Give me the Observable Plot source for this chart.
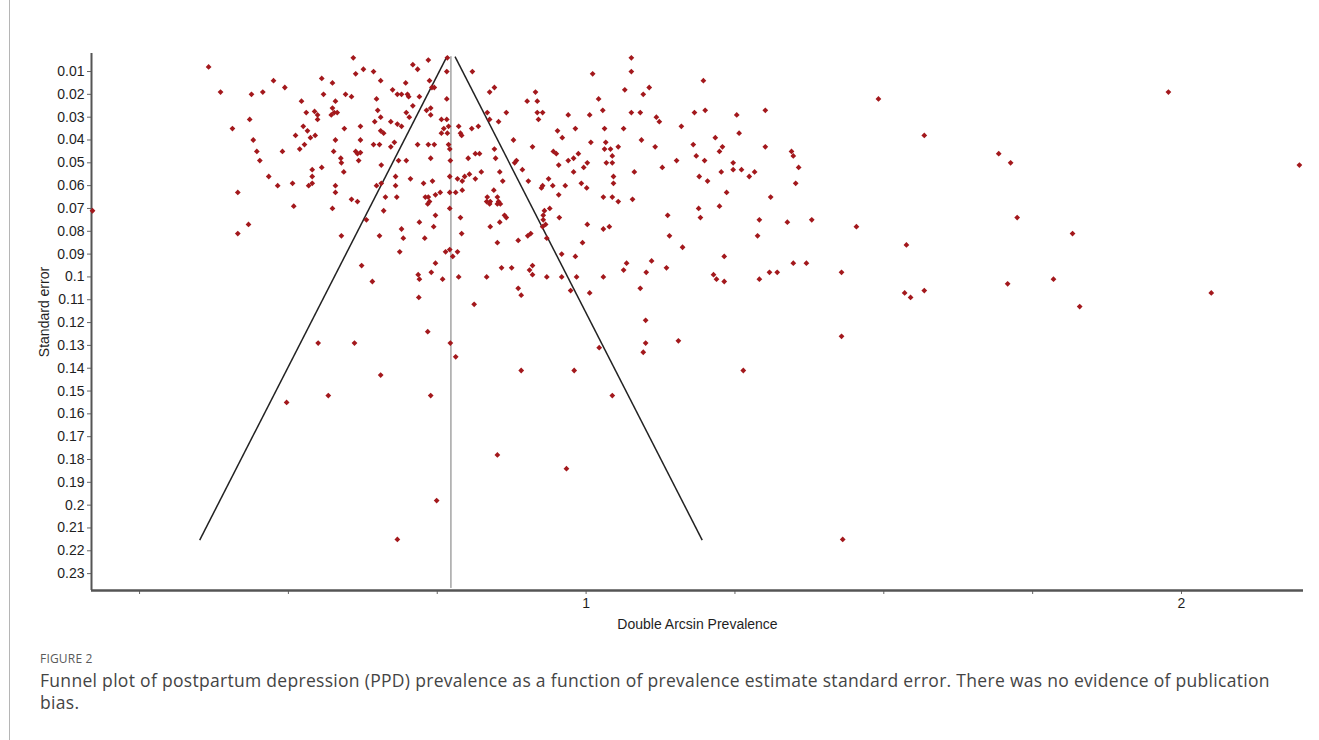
<!DOCTYPE html>
<html>
<head>
<meta charset="utf-8">
<script src="https://cdn.jsdelivr.net/npm/d3@7"></script>
<script src="https://cdn.jsdelivr.net/npm/@observablehq/plot@0.6"></script>
<style>
  html, body { margin: 0; padding: 0; background: #fff; overflow: hidden; }
  #fig { position: relative; width: 1319px; height: 740px; }
  #fig::before { content: ""; position: absolute; left: 9px; top: 0; width: 0; height: 740px; border-left: 1px solid #b5b5b5; }
  #chart { position: absolute; left: 0; top: 0; }
  .figlabel { position: absolute; left: 40px; top: 650px; font-family: "Open Sans", "Noto Sans", sans-serif; font-size: 12px; color: #5a5a5a; letter-spacing: 0.2px; }
  .caption { position: absolute; left: 40px; top: 669px; width: 1245px; font-family: "Open Sans", "Noto Sans", sans-serif; font-size: 17.5px; letter-spacing: 0.3px; line-height: 22px; color: #444; }
</style>
</head>
<body>
<div id="fig">
  <div id="chart"></div>
  <div class="figlabel">FIGURE 2</div>
  <div class="caption">Funnel plot of postpartum depression (PPD) prevalence as a function of prevalence estimate standard error. There was no evidence of publication bias.</div>
</div>
<script>
// ---- Data ----
const prevalence = [
  0.366,0.386,0.438,0.457,0.475,0.494,0.406,0.435,0.441,0.447,0.452,0.490,
  0.609,0.556,0.574,0.613,0.626,0.643,0.655,0.709,0.717,0.735,0.767,0.766,
  0.737,0.741,0.745,0.697,0.675,0.683,0.690,0.700,0.702,0.720,0.559,0.522,
  0.596,0.606,0.579,0.574,0.648,0.650,0.766,0.530,0.544,0.549,0.549,0.572,
  0.577,0.582,0.655,0.709,0.698,0.703,0.732,0.739,0.739,0.525,0.532,0.512,
  0.545,0.537,0.527,0.519,0.594,0.621,0.645,0.672,0.683,0.690,0.655,0.660,
  0.579,0.621,0.643,0.653,0.678,0.672,0.576,0.613,0.616,0.621,0.618,0.588,
  0.589,0.656,0.685,0.698,0.540,0.556,0.717,0.735,0.745,0.757,0.766,0.769,
  0.761,0.757,0.767,0.769,0.771,0.772,0.739,0.786,0.789,0.791,0.808,0.819,
  0.809,0.814,0.821,0.802,0.838,0.846,0.834,0.838,0.866,0.853,0.846,0.848,
  0.878,0.880,0.883,0.893,0.901,0.915,0.918,0.918,0.927,0.920,0.910,0.945,
  0.950,0.954,0.952,0.960,0.970,0.982,0.970,0.979,0.987,0.996,1.002,1.006,
  1.011,1.021,1.028,1.031,1.008,1.033,1.031,1.041,1.044,1.044,1.034,1.054,
  1.063,1.065,1.076,1.076,1.076,1.091,1.096,1.106,1.093,1.118,1.123,1.116,
  1.128,1.197,1.182,1.200,1.253,1.301,1.160,1.217,1.257,1.180,1.229,1.224,
  1.301,1.185,1.152,1.199,1.247,1.247,1.227,1.261,1.274,1.283,1.190,1.204,
  1.345,1.348,1.357,1.352,1.236,1.310,1.224,1.189,1.192,1.291,1.338,1.379,
  1.288,1.454,1.140,1.162,1.232,1.348,1.370,1.214,1.219,1.232,1.308,1.321,
  1.291,1.429,1.491,1.568,1.538,1.535,1.545,1.568,1.978,1.693,1.713,2.198,
  1.724,1.817,1.708,1.785,2.050,1.829,1.429,1.264,1.431,0.719,0.812,0.886,
  0.891,0.974,1.006,1.091,0.734,0.550,0.611,0.772,0.781,1.100,1.100,1.096,
  1.155,1.022,0.891,0.980,0.655,0.567,0.739,0.497,1.044,0.851,0.967,0.749,
  0.683,0.171,0.415,0.467,0.482,0.433,0.415,0.593,0.507,0.534,0.540,0.540,
  0.579,0.579,0.509,0.574,0.606,0.616,0.648,0.656,0.680,0.680,0.663,0.682,
  0.660,0.631,0.705,0.727,0.742,0.730,0.735,0.737,0.734,0.747,0.755,0.771,
  0.771,0.771,0.784,0.792,0.796,0.804,0.814,0.781,0.792,0.747,0.789,0.744,
  0.720,0.690,0.693,0.729,0.791,0.589,0.653,0.687,0.771,0.764,0.776,0.784,
  0.747,0.623,0.641,0.718,0.720,0.740,0.759,0.786,0.824,0.855,0.860,0.903,
  0.937,0.925,0.927,0.944,0.965,0.979,0.992,1.001,0.954,0.845,0.834,0.839,
  0.833,0.838,0.851,0.853,0.851,0.856,0.863,0.866,0.839,0.855,0.851,0.886,
  0.902,0.907,0.930,0.939,0.928,0.928,0.932,0.927,0.934,0.955,1.002,0.994,
  0.959,0.982,1.029,1.044,1.054,1.046,1.046,1.081,1.078,1.137,1.029,1.039,
  0.858,0.875,0.910,0.905,0.910,0.833,0.934,0.959,0.984,1.029,1.068,1.063,
  1.110,1.101,1.135
];
const standardError = [
  0.008,0.019,0.020,0.019,0.014,0.017,0.035,0.031,0.040,0.045,0.049,0.045,
  0.004,0.013,0.015,0.011,0.009,0.010,0.014,0.007,0.009,0.005,0.004,0.010,
  0.014,0.017,0.017,0.015,0.018,0.020,0.020,0.020,0.021,0.021,0.020,0.023,
  0.020,0.021,0.023,0.026,0.022,0.027,0.022,0.028,0.0275,0.029,0.031,0.029,
  0.028,0.028,0.030,0.025,0.028,0.030,0.027,0.026,0.029,0.034,0.036,0.038,
  0.038,0.039,0.042,0.044,0.035,0.034,0.032,0.032,0.033,0.034,0.036,0.037,
  0.040,0.040,0.042,0.042,0.041,0.043,0.045,0.045,0.046,0.0455,0.049,0.048,
  0.050,0.051,0.049,0.049,0.053,0.052,0.042,0.042,0.042,0.031,0.031,0.034,
  0.035,0.037,0.037,0.042,0.044,0.049,0.048,0.034,0.037,0.038,0.035,0.034,
  0.010,0.046,0.046,0.048,0.019,0.017,0.028,0.031,0.028,0.032,0.044,0.048,
  0.040,0.050,0.049,0.053,0.023,0.019,0.023,0.028,0.028,0.031,0.043,0.045,
  0.046,0.051,0.036,0.039,0.029,0.035,0.049,0.048,0.046,0.052,0.050,0.029,
  0.011,0.022,0.027,0.035,0.041,0.041,0.044,0.044,0.047,0.050,0.050,0.043,
  0.035,0.018,0.004,0.010,0.028,0.028,0.020,0.017,0.040,0.030,0.032,0.043,
  0.052,0.014,0.028,0.027,0.029,0.027,0.034,0.039,0.037,0.042,0.043,0.045,
  0.043,0.047,0.049,0.049,0.050,0.053,0.054,0.053,0.056,0.054,0.056,0.058,
  0.045,0.047,0.052,0.059,0.063,0.065,0.069,0.070,0.074,0.075,0.076,0.075,
  0.082,0.078,0.082,0.087,0.091,0.094,0.094,0.099,0.101,0.102,0.098,0.098,
  0.101,0.098,0.022,0.038,0.086,0.107,0.109,0.106,0.019,0.046,0.050,0.051,
  0.074,0.081,0.103,0.101,0.107,0.113,0.126,0.141,0.215,0.109,0.112,0.105,
  0.108,0.106,0.107,0.105,0.124,0.129,0.129,0.129,0.135,0.119,0.129,0.133,
  0.128,0.131,0.141,0.141,0.143,0.152,0.152,0.155,0.152,0.178,0.184,0.198,
  0.215,0.071,0.063,0.056,0.060,0.077,0.081,0.054,0.059,0.060,0.059,0.056,
  0.060,0.063,0.069,0.070,0.066,0.067,0.060,0.059,0.056,0.060,0.065,0.065,
  0.071,0.075,0.057,0.059,0.058,0.065,0.065,0.067,0.068,0.064,0.063,0.056,
  0.063,0.070,0.057,0.058,0.056,0.055,0.057,0.063,0.062,0.073,0.074,0.078,
  0.076,0.079,0.083,0.083,0.081,0.082,0.082,0.089,0.088,0.089,0.091,0.089,
  0.094,0.095,0.102,0.099,0.101,0.098,0.101,0.100,0.054,0.054,0.058,0.058,
  0.057,0.061,0.060,0.060,0.060,0.054,0.059,0.061,0.064,0.062,0.065,0.067,
  0.067,0.068,0.065,0.067,0.068,0.068,0.073,0.074,0.078,0.076,0.085,0.084,
  0.082,0.081,0.071,0.070,0.073,0.075,0.077,0.078,0.083,0.074,0.077,0.085,
  0.090,0.091,0.065,0.065,0.067,0.056,0.059,0.054,0.066,0.073,0.079,0.078,
  0.096,0.096,0.095,0.097,0.099,0.100,0.100,0.100,0.100,0.100,0.094,0.097,
  0.093,0.098,0.096
];
const yTicks = [0.01,0.02,0.03,0.04,0.05,0.06,0.07,0.08,0.09,0.10,0.11,0.12,
                0.13,0.14,0.15,0.16,0.17,0.18,0.19,0.20,0.21,0.22,0.23];
const xTicks = [0.25,0.5,0.75,1,1.25,1.5,1.75,2];
const xTickLabels = {1: "1", 2: "2"};
const yAxisTitle = "Standard error";
const xAxisTitle = "Double Arcsin Prevalence";
const pooledEstimate = 0.773;   // vertical line (summary estimate)
const funnelMinSE = 0.0035;     // top of funnel lines
const funnelMaxSE = 0.2153;     // bottom of funnel lines
const zCrit = 1.96;
const xDomain = [0.1693, 2.2049];
const yDomain = [0.0021, 0.2374];

// ---- Build tables ----
const studies = prevalence.map((p, i) => ({p, se: standardError[i]}));
const funnelSides = [-1, 1].map(s => ({
  xa: pooledEstimate + s * zCrit * funnelMinSE, ya: funnelMinSE,
  xb: pooledEstimate + s * zCrit * funnelMaxSE, yb: funnelMaxSE
}));

const chart = Plot.plot({
  width: 1319,
  height: 640,
  marginLeft: 91,
  marginRight: 16,
  marginTop: 53,
  marginBottom: 50,
  style: {fontFamily: "'Liberation Sans', Arial, sans-serif", fontSize: "14px", color: "#1e1e1e", background: "transparent"},
  x: {domain: xDomain},
  y: {domain: yDomain, reverse: true},
  marks: [
    Plot.axisY({ticks: yTicks, tickSize: 4, tickPadding: 3, stroke: "#666",
      tickFormat: d => String(+d.toFixed(2)), label: null}),
    Plot.text([yAxisTitle], {frameAnchor: "left", rotate: -90, dx: -47, dy: -10,
      fill: "#1e1e1e", fontSize: 14, textAnchor: "middle"}),
    Plot.axisX({ticks: xTicks, tickSize: 4, tickPadding: 4, stroke: "#666",
      tickFormat: d => xTickLabels[d] ?? "",
      label: xAxisTitle, labelAnchor: "center", labelOffset: 38, labelArrow: "none"}),
    Plot.ruleX([xDomain[0]], {stroke: "#555", strokeWidth: 2}),
    Plot.ruleY([yDomain[1]], {stroke: "#555", strokeWidth: 2.5}),
    Plot.ruleX([pooledEstimate], {y1: funnelMinSE, y2: 0.2365, stroke: "#777", strokeWidth: 1}),
    Plot.link(funnelSides, {x1: "xa", y1: "ya", x2: "xb", y2: "yb", stroke: "#222", strokeWidth: 1.5}),
    Plot.dot(studies, {x: "p", y: "se", symbol: "diamond2", r: 2.6, fill: "#a3181c", stroke: "none"})
  ]
});
document.getElementById("chart").appendChild(chart);
</script>
</body>
</html>
